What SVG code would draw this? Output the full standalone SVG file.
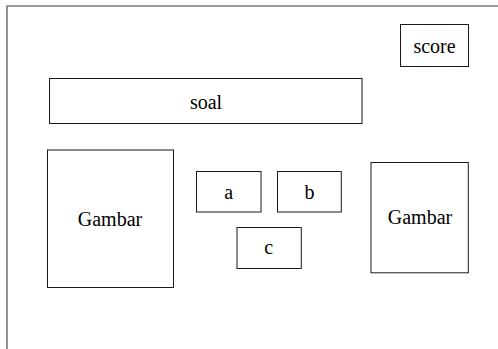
<svg xmlns="http://www.w3.org/2000/svg" width="498" height="349" viewBox="0 0 498 349">
  <style>
    .box { fill: #ffffff; stroke: #1a1a1a; stroke-width: 1; }
    .lbl { font-family: "Liberation Serif", "Tinos", "Times New Roman", Times, "DejaVu Serif", serif; font-size: 20px; fill: #000000; text-anchor: middle; }
    .frame { fill: none; stroke: #7a7a7a; stroke-width: 1.6; }
  </style>
  <rect width="498" height="349" fill="#ffffff"/>
  <!-- page frame -->
  <path class="frame" d="M7,349 V6 H498"/>
  <g id="connectors"></g>
  <g id="score">
    <rect class="box" x="400.5" y="24.5" width="68" height="42"/>
    <text class="lbl" x="434.5" y="52.5">score</text>
  </g>
  <g id="soal">
    <rect class="box" x="49.5" y="78.5" width="312.5" height="45"/>
    <text class="lbl" x="206" y="108.5">soal</text>
  </g>
  <g id="gambar-left">
    <rect class="box" x="47.5" y="150" width="126" height="137.5"/>
    <text class="lbl" x="110" y="226">Gambar</text>
  </g>
  <g id="opt-a">
    <rect class="box" x="196.5" y="171.5" width="64.5" height="40.5"/>
    <text class="lbl" x="228.7" y="199">a</text>
  </g>
  <g id="opt-b">
    <rect class="box" x="277.5" y="171.5" width="63.8" height="40.5"/>
    <text class="lbl" x="309.5" y="199">b</text>
  </g>
  <g id="opt-c">
    <rect class="box" x="237" y="227.5" width="64.3" height="41"/>
    <text class="lbl" x="268.7" y="254">c</text>
  </g>
  <g id="gambar-right">
    <rect class="box" x="371" y="162.5" width="97.3" height="110.3"/>
    <text class="lbl" x="420" y="224">Gambar</text>
  </g>
</svg>
